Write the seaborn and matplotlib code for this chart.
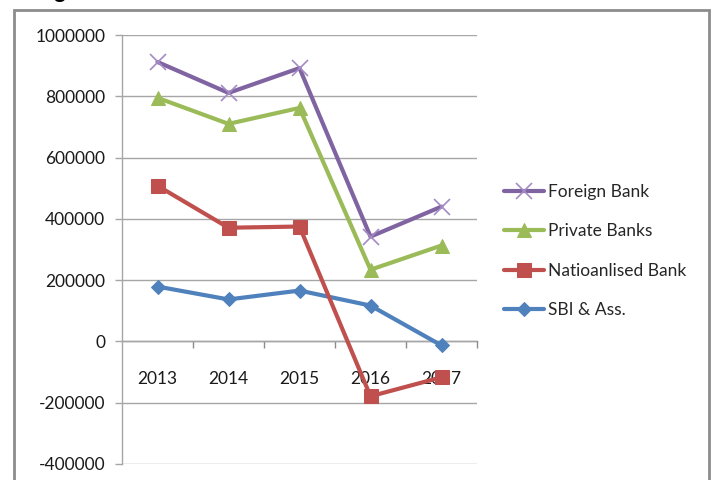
import matplotlib
matplotlib.use("Agg")
import matplotlib.pyplot as plt
from matplotlib.patches import Rectangle
import seaborn as sns
import numpy as np

years = ["2013", "2014", "2015", "2016", "2017"]
sbi = [179000, 137000, 166000, 117000, -13000]
nationalised = [508000, 371000, 375000, -179000, -117000]
private = [795000, 710000, 762000, 234000, 313000]
foreign = [912000, 811000, 892000, 342000, 440000]

series_names = ["SBI & Ass.", "Natioanlised Bank", "Private Banks", "Foreign Bank"]
series_values = [sbi, nationalised, private, foreign]
colors = ["#4F81BD", "#C0504D", "#9BBB59", "#8064A2"]
markers = ["D", "s", "^", "x"]
msizes = [7.5, 10, 10, 11]

yticks = [-400000, -200000, 0, 200000, 400000, 600000, 800000, 1000000]

sns.set_theme(style="white")
plt.rcParams["font.family"] = ["Lato", "DejaVu Sans"]

fig = plt.figure(figsize=(7.15, 4.8), dpi=100)
ax = fig.add_axes([122 / 715, 1 - 464 / 480, (477 - 122) / 715, (464 - 35) / 480])

pos = np.arange(len(years))
handles = []
for name, vals, c, m, ms in zip(series_names, series_values, colors, markers, msizes):
    if m == "x":
        kw = dict(markeredgecolor="#A48BC4", markeredgewidth=1.2)
    else:
        kw = dict(markeredgecolor=c, markerfacecolor=c)
    sns.lineplot(x=pos, y=vals, ax=ax, color=c, linewidth=3, marker=m,
                 markersize=ms, label=name, legend=False, **kw)
    handles.append(ax.lines[-1])

ax.set_xlim(-0.5, len(years) - 0.5)
ax.set_ylim(yticks[0], yticks[-1])
ax.set_yticks(yticks)
ax.set_yticklabels([str(v) for v in yticks], fontsize=12.5, color="#1a1a1a")
ax.yaxis.grid(True, color="#A6A6A6", linewidth=1)
ax.set_axisbelow(True)

for s in ["top", "right"]:
    ax.spines[s].set_visible(False)
ax.spines["left"].set_color("#A6A6A6")
ax.spines["left"].set_linewidth(1)
ax.spines["bottom"].set_position(("data", 0))
ax.spines["bottom"].set_color("#8C8C8C")
ax.spines["bottom"].set_linewidth(1)
ax.spines["bottom"].set_zorder(0.5)

ax.set_xticks(pos + 0.5)
ax.set_xticklabels([])
ax.set_xticks(pos, minor=True)
ax.set_xticklabels(years, minor=True, fontsize=12.5, color="#1a1a1a")
ax.tick_params(axis="x", which="major", direction="out", length=5, width=1, color="#8C8C8C", bottom=True)
ax.tick_params(axis="x", which="minor", length=0, pad=21)
ax.tick_params(axis="y", direction="out", length=5, width=1, color="#A6A6A6", left=True, pad=7)
ax.set_xlabel("")
ax.set_ylabel("")

leg_order = [3, 2, 1, 0]
fig.legend([handles[i] for i in leg_order], [series_names[i] for i in leg_order],
           loc="upper left", bbox_to_anchor=(504 / 715, 1 - 184 / 480),
           frameon=False, fontsize=12.5, handlelength=2.3, handletextpad=0.25,
           labelspacing=1.35, borderpad=0, borderaxespad=0)

fig.patches.append(Rectangle((14 / 715, -0.2), (709 - 14) / 715, 1.2 - 10 / 480 + 0.0,
                             transform=fig.transFigure, fill=False,
                             edgecolor="#8C8C8C", linewidth=2, clip_on=False))
fig.text(36 / 715, 1 + 2 / 480, "Figure", fontsize=16, fontweight="bold",
         va="baseline", ha="left", color="black")

fig.savefig("out.png", dpi=100)
